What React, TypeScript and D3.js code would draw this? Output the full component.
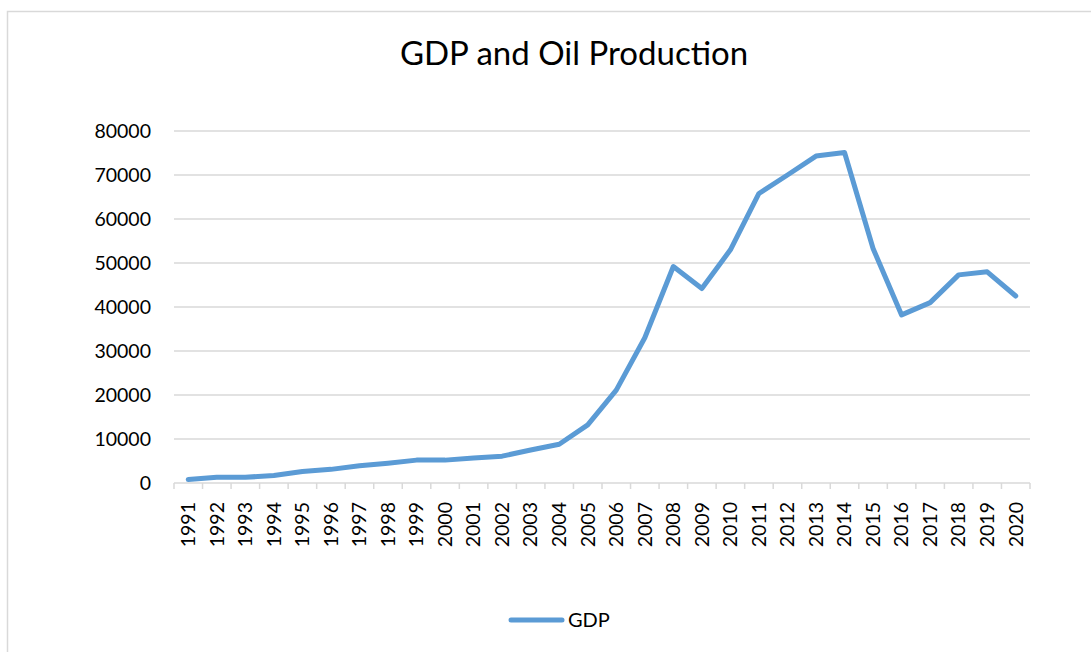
import React from "react";
import * as d3 from "d3";

const years = [
  "1991","1992","1993","1994","1995","1996","1997","1998","1999","2000",
  "2001","2002","2003","2004","2005","2006","2007","2008","2009","2010",
  "2011","2012","2013","2014","2015","2016","2017","2018","2019","2020",
];
const gdp = [
  800, 1300, 1300, 1700, 2600, 3100, 3900, 4500, 5200, 5200,
  5700, 6100, 7500, 8800, 13200, 21100, 33000, 49200, 44200, 53000,
  65800, 70000, 74300, 75100, 53300, 38200, 41000, 47300, 48000, 42500,
];
const yTicks = [0, 10000, 20000, 30000, 40000, 50000, 60000, 70000, 80000];

const W = 1091;
const H = 652;
const FONT = "Lato, 'Open Sans', sans-serif";

export default function App() {
  const left = 174, right = 1030, top = 131, bottom = 483;
  const x = d3.scaleBand<string>().domain(years).range([left, right]);
  const y = d3.scaleLinear().domain([0, 80000]).range([bottom, top]);
  const line = d3
    .line<number>()
    .x((_, i) => (x(years[i]) as number) + x.bandwidth() / 2)
    .y((d) => y(d));
  const tickXs = years.map((yr) => x(yr) as number).concat([right]);

  return (
    <svg width={W} height={H} style={{ position: "absolute", left: 0, top: 0, background: "#fff" }}>
      <rect x={7.5} y={11.5} width={1200} height={800} fill="#fff" stroke="#D9D9D9" strokeWidth={1.5} />
      <text x={574} y={65} textAnchor="middle" fontFamily={FONT} fontSize={33} fill="#000">
        GDP and Oil Production
      </text>
      {yTicks.map((t) => (
        <g key={t}>
          <line x1={left} x2={right} y1={y(t)} y2={y(t)} stroke="#D9D9D9" strokeWidth={1.5} />
          <text x={151} y={y(t)} dy="0.35em" textAnchor="end" fontFamily={FONT} fontSize={19.5} fill="#000">
            {t}
          </text>
        </g>
      ))}
      {tickXs.map((tx, i) => (
        <line key={i} x1={tx} x2={tx} y1={bottom} y2={bottom + 6} stroke="#D9D9D9" strokeWidth={1.5} />
      ))}
      {years.map((yr) => {
        const cx = (x(yr) as number) + x.bandwidth() / 2;
        return (
          <text
            key={yr}
            transform={`translate(${cx},${502}) rotate(-90)`}
            textAnchor="end"
            dy="0.35em"
            fontFamily={FONT}
            fontSize={19.5}
            fill="#000"
          >
            {yr}
          </text>
        );
      })}
      <path d={line(gdp) as string} fill="none" stroke="#5B9BD5" strokeWidth={5} strokeLinejoin="round" strokeLinecap="round" />
      <line x1={511} x2={562} y1={620} y2={620} stroke="#5B9BD5" strokeWidth={5} strokeLinecap="round" />
      <text x={568} y={620} dy="0.35em" fontFamily={FONT} fontSize={20} fill="#000">
        GDP
      </text>
    </svg>
  );
}
